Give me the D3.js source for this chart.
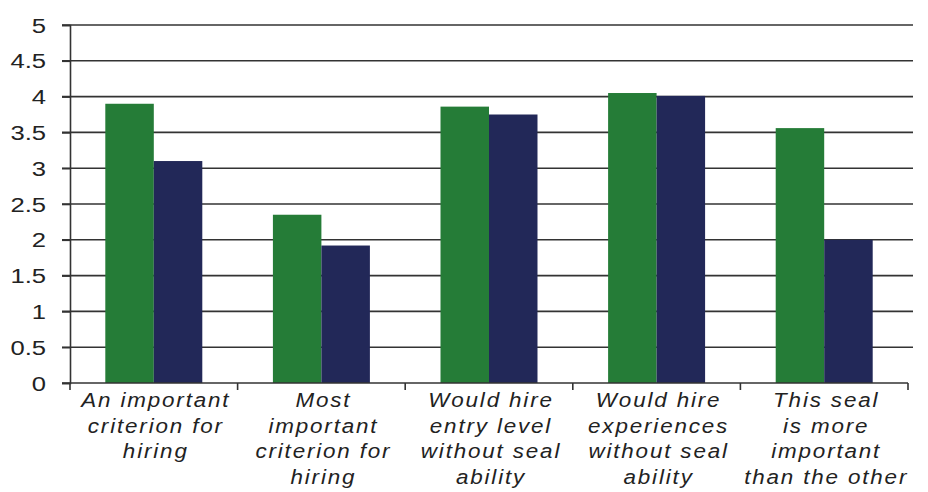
<!DOCTYPE html>
<html>
<head>
<meta charset="utf-8">
<script src="https://cdn.jsdelivr.net/npm/d3@7"></script>
<style>
  body { margin: 0; background: #fff; }
  text { font-family: "Liberation Sans", Arial, sans-serif; fill: #222; }
</style>
</head>
<body>
<script>
const w = 928;
const h = 492;

const categories = [
    ["An important", "criterion for", "hiring"],
    ["Most", "important", "criterion for", "hiring"],
    ["Would hire", "entry level", "without seal", "ability"],
    ["Would hire", "experiences", "without seal", "ability"],
    ["This seal", "is more", "important", "than the other"]
];
const seriesNames = ["green", "navy"];
const greenValues = [3.9, 2.35, 3.86, 4.05, 3.56];
const navyValues = [3.1, 1.92, 3.75, 4.01, 2.0];
const yTicks = [0, 0.5, 1, 1.5, 2, 2.5, 3, 3.5, 4, 4.5, 5];
const colors = {green: "#257c37", navy: "#222858"};

const plotLeft = 70, plotRight = 908, plotTop = 25, plotBottom = 383;

const svg = d3.select("body")
    .append("svg")
    .attr("width", w)
    .attr("height", h);

const x0 = d3.scaleBand()
    .domain(d3.range(categories.length))
    .range([plotLeft, plotRight]);

const x1 = d3.scaleBand()
    .domain(seriesNames)
    .range([0, x0.bandwidth()])
    .paddingOuter(0.728);

const y = d3.scaleLinear()
    .domain([0, 5])
    .range([plotBottom, plotTop]);

// gridlines
svg.append("g")
    .selectAll("line")
    .data(yTicks.filter(d => d > 0))
    .join("line")
    .attr("x1", plotLeft - 8)
    .attr("x2", plotRight + 5)
    .attr("y1", d => y(d))
    .attr("y2", d => y(d))
    .attr("stroke", "#333")
    .attr("stroke-width", 1.6);

// bars
const rows = greenValues.map((v, i) => ({i, green: v, navy: navyValues[i]}));
svg.append("g")
    .selectAll("g")
    .data(rows)
    .join("g")
    .attr("transform", d => "translate(" + x0(d.i) + ",0)")
    .selectAll("rect")
    .data(d => seriesNames.map(s => ({s, v: d[s]})))
    .join("rect")
    .attr("x", d => x1(d.s))
    .attr("width", x1.bandwidth())
    .attr("y", d => y(d.v))
    .attr("height", d => y(0) - y(d.v))
    .attr("fill", d => colors[d.s]);

// y axis
const yAxis = d3.axisLeft(y)
    .tickValues(yTicks)
    .tickSize(8)
    .tickFormat(d => String(d));
const gy = svg.append("g")
    .attr("transform", "translate(" + plotLeft + ",0)")
    .call(yAxis);
gy.select(".domain").attr("stroke", "#333").attr("stroke-width", 1.6);
gy.selectAll(".tick line").attr("stroke", "#333").attr("stroke-width", 1.6);
gy.selectAll(".tick text").remove();
gy.selectAll(".tick")
    .append("text")
    .attr("text-anchor", "end")
    .attr("transform", "translate(-24,7) scale(1.22,1)")
    .attr("font-size", 21)
    .text(d => String(d));

// x axis
const xAxis = d3.axisBottom(x0)
    .tickValues([])
    .tickSizeOuter(0);
const gx = svg.append("g")
    .attr("transform", "translate(0," + plotBottom + ")")
    .call(xAxis);
gx.select(".domain")
    .attr("stroke", "#333")
    .attr("stroke-width", 1.6)
    .attr("d", "M" + (plotLeft - 8) + ",0H" + plotRight);
gx.append("g")
    .selectAll("line")
    .data(d3.range(categories.length + 1))
    .join("line")
    .attr("x1", d => plotLeft + d * x0.step())
    .attr("x2", d => plotLeft + d * x0.step())
    .attr("y1", 0)
    .attr("y2", 7)
    .attr("stroke", "#333")
    .attr("stroke-width", 1.6);

// category labels
const lab = gx.append("g")
    .selectAll("g")
    .data(categories)
    .join("g")
    .attr("transform", (d, i) => "translate(" + (x0(i) + x0.bandwidth() / 2 + 2) + ",0)");
lab.selectAll("text")
    .data(d => d)
    .join("text")
    .attr("text-anchor", "middle")
    .attr("font-style", "italic")
    .attr("font-size", 19.5)
    .attr("letter-spacing", 1.6)
    .attr("transform", (d, j) => "translate(0," + (24 + j * 25.5) + ") scale(1.15,1)")
    .text(d => d);
</script>
</body>
</html>
